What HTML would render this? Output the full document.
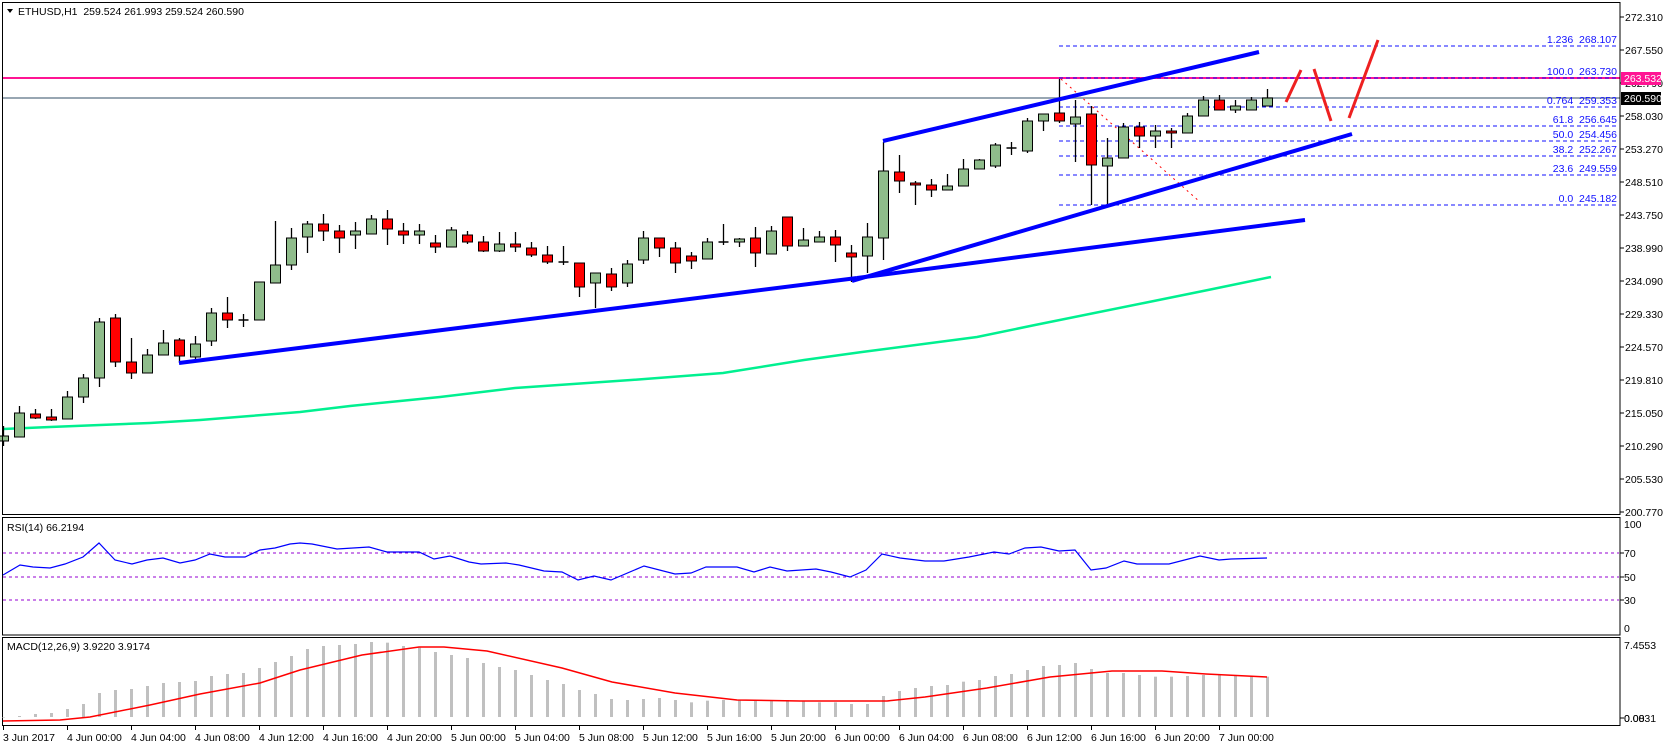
<!DOCTYPE html>
<html><head><meta charset="utf-8"><style>
html,body{margin:0;padding:0;background:#fff;}
svg{display:block;font-family:"Liberation Sans",sans-serif;font-size:10.5px;}
</style></head><body>
<svg id="s" width="1663" height="746" xmlns="http://www.w3.org/2000/svg"></svg>
<script>
var S=document.getElementById('s');var h='';
function L(x1,y1,x2,y2,c,w,d){h+='<line x1="'+x1+'" y1="'+y1+'" x2="'+x2+'" y2="'+y2+'" stroke="'+c+'" stroke-width="'+(w||1)+'"'+(d?' stroke-dasharray="'+d+'"':'')+'/>';}
function P(pts,c,w){h+='<polyline fill="none" stroke="'+c+'" stroke-width="'+w+'" points="'+pts.map(function(p){return p.join(',')}).join(' ')+'"/>';}
function T(x,y,t,c,a){h+='<text x="'+x+'" y="'+y+'" fill="'+(c||'#000')+'"'+(a?' text-anchor="'+a+'"':'')+'>'+t+'</text>';}
// green MA
P([[3,429],[50,427],[100,425],[150,423],[200,420],[250,416],[300,412],[350,406],[400,401],[440,397],[515,388],[631,380],[723,373],[804,360],[862,352],[977,337],[1035,325],[1144,303],[1208,290],[1271,277]],'#00f090',2.5);
// horizontal lines
L(2,78,1620,78,'#ff1493',2);
L(2,98,1620,98,'#778899',1.5);
var fib=[[46,'1.236','268.107'],[78,'100.0','263.730'],[107,'0.764','259.353'],[126,'61.8','256.645'],[141,'50.0','254.456'],[156,'38.2','252.267'],[175,'23.6','249.559'],[205,'0.0','245.182']];
fib.forEach(function(f){L(1059,f[0],1619,f[0],'#1010ff',1,'4,3');T(1617,f[0]-3,f[1]+'&#160;&#160;'+f[2],'#1010ff','end');});
h+='<line x1="1061" y1="79" x2="1200" y2="202" stroke="#ff0000" stroke-width="1" stroke-dasharray="2,4"/>';
// candles
var C=[[436,441,426,446,'g'],[413,437,406,437,'g'],[414,418,409,419,'r'],[417,420,409,421,'r'],[397,419,391,419,'g'],[378,397,374,403,'g'],[322,378,318,387,'g'],[318,362,314,367,'r'],[362,373,338,379,'r'],[355,373,349,373,'g'],[343,355,330,355,'g'],[340,356,338,363,'r'],[344,357,336,360,'g'],[313,341,308,346,'g'],[313,320,297,328,'r'],[320,320,314,327,'d'],[282,320,282,320,'g'],[265,283,221,283,'g'],[238,265,228,270,'g'],[224,237,221,253,'g'],[224,231,214,241,'r'],[231,238,225,253,'r'],[231,235,222,249,'g'],[219,234,215,234,'g'],[219,229,210,245,'r'],[231,235,223,244,'r'],[231,235,224,244,'g'],[243,247,235,253,'r'],[230,247,227,247,'g'],[235,242,231,244,'r'],[242,251,236,252,'r'],[244,251,232,252,'g'],[244,247,232,252,'r'],[248,255,242,257,'r'],[255,262,246,264,'r'],[262,262,246,265,'d'],[263,287,263,297,'r'],[273,283,273,308,'g'],[274,287,268,291,'r'],[264,283,260,287,'g'],[238,260,231,264,'g'],[238,248,238,257,'r'],[248,263,242,273,'r'],[256,261,252,269,'r'],[242,259,238,259,'g'],[242,242,224,245,'d'],[239,242,238,247,'g'],[238,253,227,267,'r'],[231,254,226,254,'g'],[217,246,217,251,'r'],[240,246,228,246,'g'],[237,242,231,242,'g'],[237,245,230,262,'r'],[253,257,245,282,'r'],[237,256,223,273,'g'],[171,238,142,260,'g'],[172,181,155,193,'r'],[183,185,181,205,'r'],[185,190,179,197,'r'],[186,190,174,190,'g'],[169,186,159,186,'g'],[160,169,159,169,'g'],[145,166,143,168,'g'],[148,148,142,155,'d'],[121,151,118,153,'g'],[114,121,114,131,'g'],[113,121,79,123,'r'],[117,124,100,162,'g'],[114,165,106,205,'r'],[158,166,138,205,'g'],[127,158,123,158,'g'],[127,136,122,148,'r'],[131,136,125,148,'g'],[131,133,128,148,'r'],[116,133,113,133,'g'],[100,116,96,116,'g'],[100,110,95,110,'r'],[106,110,100,113,'g'],[100,110,97,110,'g'],[98,106,89,106,'g']];
C.forEach(function(c,i){var x=3.5+16*i;L(x,c[2],x,c[3],'#000',1.3);
 if(c[4]=='d'){L(x-5,c[0],x+5,c[0],'#000',1.5);}
 else{var hh=Math.max(c[1]-c[0],2);h+='<rect x="'+(x-5)+'" y="'+c[0]+'" width="10" height="'+hh+'" fill="'+(c[4]=='g'?'#8fbc8b':'#ff0000')+'" stroke="#000" stroke-width="1"/>';}});
// blue trend lines
L(179,363,857,278,'#0000ff',4);L(857,278,1305,220,'#0000ff',4);
L(852,281,1352,134,'#0000ff',4);L(883,141,1259,52,'#0000ff',4);
P([[1286,102],[1301,70]],'#ee2020',3);P([[1314,69],[1331,121]],'#ee2020',3);P([[1349,118],[1378,40]],'#ee2020',3);
// panels
h+='<rect x="2.5" y="2.5" width="1617.5" height="512" fill="none" stroke="#000"/>';
h+='<rect x="2.5" y="517.5" width="1617.5" height="117.5" fill="none" stroke="#000"/>';
h+='<rect x="2.5" y="637.5" width="1617.5" height="88" fill="none" stroke="#000"/>';
// right axis
var ax=['272.310','267.550','262.790','258.030','253.270','248.510','243.750','238.990','234.090','229.330','224.570','219.810','215.050','210.290','205.530','200.770'];
ax.forEach(function(t,k){var y=17+33*k;L(1620,y,1624,y,'#000');T(1625,y+4,t);});
h+='<rect x="1621" y="72" width="40" height="13" fill="#ff1493"/>';T(1624,82,'263.532','#fff');
h+='<rect x="1621" y="92" width="40" height="13" fill="#000"/>';T(1624,102,'260.590','#fff');
// title
h+='<polygon points="7,9 13,9 10,13" fill="#000"/>';T(18,15,'ETHUSD,H1&#160;&#160;259.524 261.993 259.524 260.590');
// RSI
[[553,'70'],[577,'50'],[600,'30']].forEach(function(r){L(3,r[0],1619,r[0],'#9400d3',1,'3,3');L(1620,r[0],1624,r[0],'#000');T(1624,r[0]+4,r[1]);});
T(1624,528,'100');T(1624,632,'0');
T(7,531,'RSI(14) 66.2194');
P([[3,575],[20,565],[33,567],[50,568],[65,564],[83,557],[99,543],[115,560],[132,564],[147,560],[163,558],[180,563],[195,560],[210,554],[225,557],[245,557],[260,550],[275,548],[290,544],[300,543],[312,544],[337,549],[369,547],[387,552],[419,552],[434,559],[450,556],[469,562],[481,564],[506,563],[519,565],[544,571],[562,572],[578,580],[594,576],[611,580],[644,566],[675,574],[691,573],[706,567],[737,567],[754,572],[770,567],[787,571],[816,569],[831,572],[850,577],[866,570],[882,554],[900,558],[925,561],[944,561],[969,557],[994,552],[1009,554],[1025,548],[1041,547],[1059,551],[1075,550],[1091,570],[1106,568],[1124,561],[1137,564],[1169,564],[1200,556],[1219,560],[1231,559],[1267,558]],'#0000ff',1.2);
// MACD
T(7,650,'MACD(12,26,9) 3.9220 3.9174');T(1624,649,'7.4553');T(1624,722,'0.0831');T(1624,722,'0.00');
L(1620,718,1624,718,'#000');
var bt=[717,716,714,713,709,704,693,690,689,686,683,682,681,676,674,673,668,662,656];
var z=[402,393,390,387,381,383,393,398,411,420,429,444,456,465,480,495,507,525,537,552,555,552,549,555,562,557,555,555,555,555,555,559,562,562,567,567,543,528,519,513,510,500,495,483,477,465,453,450,444,462,474,474,480,485,485,483,480,480,483,483,485];
z.forEach(function(v){bt.push(515+v/3);});
bt.forEach(function(t,i){var x=3.5+16*i;h+='<rect x="'+(x-1.5)+'" y="'+t+'" width="3" height="'+Math.max(717-t,0.5)+'" fill="#c0c0c0"/>';});
P([[3,721],[60,720],[90,717],[150,705],[200,694],[260,683],[300,670],[362,655],[419,647],[444,647],[487,651],[562,668],[612,682],[675,693],[737,700],[800,701],[887,701],[925,697],[987,688],[1050,677],[1112,671],[1162,671],[1206,674],[1267,677]],'#ff0000',1.5);
// x axis
var lb=['3 Jun 2017'];['4','5','6','7'].forEach(function(d){['00:00','04:00','08:00','12:00','16:00','20:00'].forEach(function(t){lb.push(d+' Jun '+t);});});
for(var k=0;k<20;k++){var x=3+64*k;L(x+0.5,726,x+0.5,730,'#000');T(x,741,lb[k]);}
S.innerHTML=h;
</script>
</body></html>
